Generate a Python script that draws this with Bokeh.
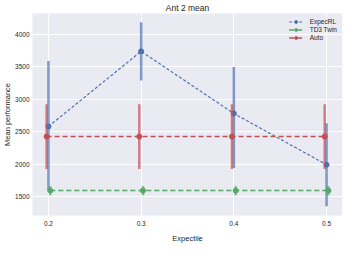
from bokeh.plotting import figure
from bokeh.models import Legend, LegendItem, FixedTicker, Range1d
from bokeh.embed import file_html
from bokeh.resources import INLINE

# Data
expectiles = [0.2, 0.3, 0.4, 0.5]
tick_labels = ["0.2", "0.3", "0.4", "0.5"]
yticks = [1500, 2000, 2500, 3000, 3500, 4000]

expecrl_mean = [2580, 3740, 2780, 1990]
expecrl_low = [1590, 3290, 1940, 1350]
expecrl_high = [3590, 4190, 3500, 2630]

td3_mean = [1590, 1590, 1590, 1590]
td3_low = [1520, 1520, 1520, 1520]
td3_high = [1660, 1660, 1660, 1660]

auto_mean = [2425, 2425, 2425, 2425]
auto_low = [1925, 1925, 1925, 1925]
auto_high = [2925, 2925, 2925, 2925]

FONT = "Liberation Sans"
TXT = "#262626"

p = figure(width=342, height=245, output_backend="svg", toolbar_location=None,
           x_range=Range1d(0.1828, 0.5172), y_range=Range1d(1206, 4324),
           min_border_left=20, min_border_right=0, min_border_top=2, min_border_bottom=18)
p.background_fill_color = "#EAEAF2"
p.border_fill_color = "white"
p.outline_line_color = None

p.title.text = "Ant 2 mean"
p.title.align = "center"
p.title.text_font = FONT
p.title.text_font_size = "8.5px"
p.title.text_font_style = "normal"
p.title.text_color = TXT
p.title.standoff = 1

for ax in (p.xaxis[0], p.yaxis[0]):
    ax.axis_line_color = None
    ax.major_tick_line_color = None
    ax.minor_tick_line_color = None
    ax.major_tick_out = 0
    ax.major_tick_in = 0
    ax.minor_tick_out = 0
    ax.minor_tick_in = 0
    ax.major_label_text_font = FONT
    ax.major_label_text_font_size = "6.5px"
    ax.major_label_text_color = TXT
    ax.axis_label_text_font = FONT
    ax.axis_label_text_font_size = "7.5px"
    ax.axis_label_text_font_style = "normal"
    ax.axis_label_text_color = TXT
p.xaxis[0].major_label_standoff = 5
p.xaxis[0].axis_label_standoff = 5
p.yaxis[0].major_label_standoff = 3
p.yaxis[0].axis_label_standoff = 0

p.xaxis.ticker = FixedTicker(ticks=expectiles)
p.xaxis.major_label_overrides = {x: l for x, l in zip(expectiles, tick_labels)}
p.yaxis.ticker = FixedTicker(ticks=yticks)
p.xaxis.axis_label = "Expectile"
p.yaxis.axis_label = "Mean performance"

p.xgrid.grid_line_color = "white"
p.ygrid.grid_line_color = "white"
p.xgrid.grid_line_width = 1
p.ygrid.grid_line_width = 1

series = [
    ("ExpecRL", "#4C72B0", 0.0, expecrl_mean, expecrl_low, expecrl_high, "3 2", 1.2),
    ("TD3 Twin", "#55A868", 0.002, td3_mean, td3_low, td3_high, "5 3", 1.5),
    ("Auto", "#C44E52", -0.002, auto_mean, auto_low, auto_high, "5 3", 1.5),
]

items = []
for name, color, dx, mean, low, high, dash, lw in series:
    xs = [x + dx for x in expectiles]
    p.segment(x0=xs, y0=low, x1=xs, y1=high, line_color=color, line_width=2.5, line_alpha=0.7)
    ln = p.line(xs, mean, line_color=color, line_width=lw, line_dash=dash)
    sc = p.scatter(xs, mean, size=5, fill_color=color, line_color=color)
    items.append(LegendItem(label=name, renderers=[ln, sc]))

legend = Legend(items=items, location="top_right", border_line_color=None,
                background_fill_alpha=0, label_text_font=FONT, label_text_font_size="6.5px",
                label_text_color=TXT, glyph_width=14, glyph_height=7, spacing=1,
                padding=3, margin=5, label_standoff=7, label_height=7)
p.add_layout(legend)

open("out.html", "w").write(file_html(p, INLINE))
